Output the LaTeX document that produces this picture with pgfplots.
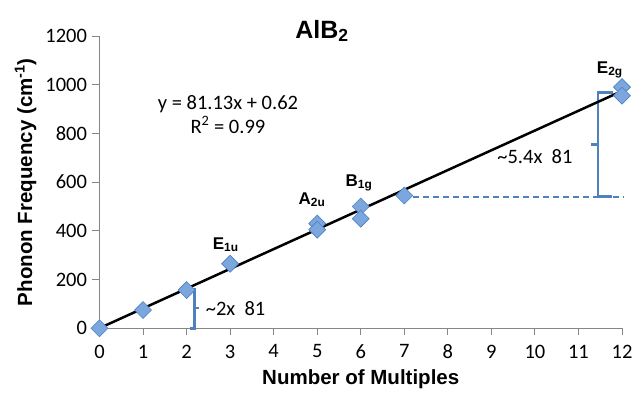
\documentclass[border=0pt]{standalone}
\usepackage{fontspec}
\setmainfont{Liberation Sans}
\newfontfamily\carlito{Carlito}
\usepackage{pgfplots}
\pgfplotsset{compat=1.18}
\definecolor{xlblue}{HTML}{4F81BD}
\definecolor{xlfill}{HTML}{7BA6DE}
\definecolor{axgray}{HTML}{868686}
\begin{document}
\begin{tikzpicture}
\begin{axis}[
  at={(0,0)}, anchor=south west,
  scale only axis, width=522.5pt, height=292.3pt,
  xmin=0, xmax=12, ymin=0, ymax=1200,
  axis x line*=bottom, axis y line*=left,
  axis line style={axgray, line width=0.9pt},
  xtick={0,1,...,12}, ytick={0,200,...,1200},
  tick style={axgray, line width=0.9pt},
  tick align=outside, major tick length=7pt,
  /pgf/number format/assume math mode=true,
  /pgf/number format/1000 sep={},
  tick label style={font=\carlito\fontsize{20.5}{20}\selectfont, black},
  xticklabel style={yshift=-6pt},
  yticklabel style={xshift=-2pt},
  xlabel={\bfseries Number of Multiples},
  ylabel={\bfseries Phonon Frequency (cm\textsuperscript{-1})},
  label style={font=\fontsize{20.5}{22}\selectfont\bfseries},
  xlabel style={at={(axis description cs:0.5,0)}, anchor=center, yshift=-51pt},
  ylabel style={at={(axis description cs:0,0.5)}, anchor=center, rotate=0, yshift=74pt},
  clip=false,
]
% dashed reference line
\addplot[xlblue, dashed, line width=1.6pt, dash pattern=on 6pt off 4pt] coordinates {(7.2,540) (12.05,540)};
% brackets
\addplot[xlblue, line width=2.8pt] coordinates {(2.08,161) (2.19,161) (2.19,0) (2.08,0)};
\addplot[xlblue, line width=2.8pt] coordinates {(2.19,83) (2.29,83)};
\addplot[xlblue, line width=2.8pt] coordinates {(11.79,968) (11.45,968) (11.45,540) (11.76,540)};
\addplot[xlblue, line width=2.8pt] coordinates {(11.45,753) (11.29,753)};
% data
\addplot[only marks, mark=square*, mark size=6pt,
  mark options={rotate=45, fill=xlfill, draw=xlblue, line width=0.6pt}]
  coordinates {
  (0,0) (1,75) (2,157) (3,265) (5,430) (5,405) (6,500) (6,450) (7,545) (12,990) (12,955)
  };
% trendline
\addplot[black, line width=2.5pt] coordinates {(0,0.62) (12,974.18)};
% texts
\node[anchor=base, font=\fontsize{25}{26}\selectfont\bfseries] at (axis cs:5.11,1191) {AlB\textsubscript{2}};
\node[anchor=base, font=\carlito\fontsize{20.5}{22}\selectfont] at (axis cs:2.95,899) {y = 81.13x + 0.62};
\node[anchor=base, font=\carlito\fontsize{20.5}{22}\selectfont] at (axis cs:2.95,801) {R\textsuperscript{2} = 0.99};
\node[anchor=base, font=\fontsize{17}{18}\selectfont\bfseries] at (axis cs:2.9,325) {E\textsubscript{1u}};
\node[anchor=base, font=\fontsize{17}{18}\selectfont\bfseries] at (axis cs:4.88,510) {A\textsubscript{2u}};
\node[anchor=base, font=\fontsize{17}{18}\selectfont\bfseries] at (axis cs:5.96,584) {B\textsubscript{1g}};
\node[anchor=base, font=\fontsize{17}{18}\selectfont\bfseries] at (axis cs:11.72,1047) {E\textsubscript{2g}};
\node[anchor=west, font=\carlito\fontsize{20.5}{22}\selectfont] at (axis cs:2.36,83) {\textasciitilde 2x\ \ 81};
\node[anchor=center, font=\carlito\fontsize{20.5}{22}\selectfont] at (axis cs:10.0,705) {\textasciitilde 5.4x\ \ 81};
\end{axis}
\pgfresetboundingbox
\path[use as bounding box] (-99.5pt,-64.7pt) rectangle (534.5pt,328.3pt);
\end{tikzpicture}
\end{document}
